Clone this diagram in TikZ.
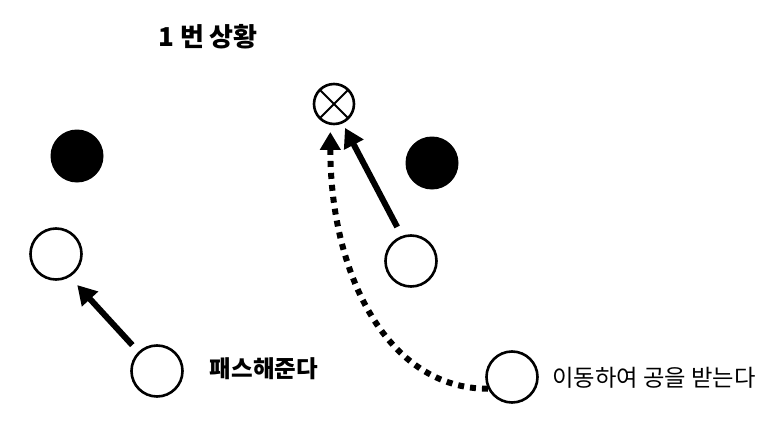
\documentclass[tikz,border=0pt]{standalone}
\usepackage{fontspec}
\setmainfont{Noto Sans CJK KR}
\usetikzlibrary{arrows.meta}
\tikzset{
  player/.style={circle, draw=black, line width=2.6pt, minimum size=51pt, inner sep=0pt},
  opponent/.style={circle, fill=black, minimum size=53pt, inner sep=0pt},
  target/.style={circle, draw=black, line width=2.6pt, minimum size=40pt, inner sep=0pt,
    path picture={\draw[line width=1.8pt] (path picture bounding box.north west) -- (path picture bounding box.south east)
      (path picture bounding box.north east) -- (path picture bounding box.south west);}},
  passarrow/.style={line width=6pt, -{Triangle[length=19pt,width=21pt]}},
  runarrow/.style={line width=6pt, dash pattern=on 6pt off 6pt, -{Triangle[length=18pt,width=20pt]}},
  lbl/.style={inner sep=0pt, font=\fontsize{23.3pt}{26pt}\selectfont}
}
\begin{document}
\begin{tikzpicture}[x=1pt,y=-1pt]
\useasboundingbox (0,0) rectangle (772,431);
\node[inner sep=0pt, font=\fontsize{26pt}{30pt}\selectfont\bfseries] (title) at (208,37) {1 번 상황};
\node[target] (x) at (334,104) {};
\node[opponent] (d1) at (77,156) {};
\node[opponent] (d2) at (432,163) {};
\node[player] (p1) at (56,254) {};
\node[player] (p2) at (157,371) {};
\node[player] (p3) at (411,261) {};
\node[player] (p4) at (512,377) {};
\draw[passarrow, shorten <=9pt, shorten >=11pt] (p2.134) -- (p1.-59);
\draw[passarrow, shorten <=10pt, shorten >=5pt] (p3.110) -- (x.-66);
\draw[runarrow, shorten >=7pt] (p4.206) .. controls +(-100,0) and +(0,150) .. (x.260);
\node[lbl, font=\fontsize{23.5pt}{26pt}\selectfont\bfseries] (t1) at (264,369) {패스해준다};
\node[lbl, anchor=west] (t2) at (552,378) {이동하여 공을 받는다};
\end{tikzpicture}
\end{document}
